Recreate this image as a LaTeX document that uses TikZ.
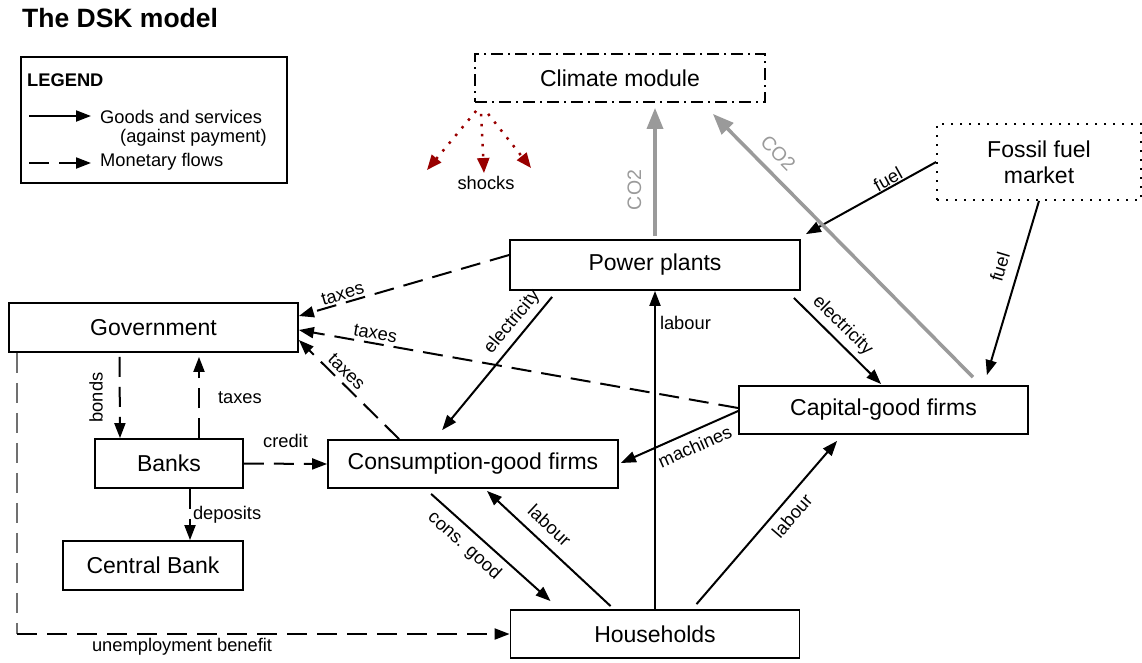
\documentclass[tikz,border=0pt]{standalone}
\usepackage{fontspec}
\setmainfont{Liberation Sans}
\usetikzlibrary{arrows.meta}
\definecolor{co2gray}{HTML}{9A9A9A}
\definecolor{ugray}{HTML}{707070}
\definecolor{shockred}{HTML}{990000}
\newcommand{\dskBox}{\fontsize{23}{26}\selectfont}
\newcommand{\dskLbl}{\fontsize{18.3}{21}\selectfont}
\newcommand{\dskLeg}{\fontsize{18.3}{21}\selectfont}
\newcommand{\dskTitle}{\fontsize{26.5}{30}\selectfont\bfseries}
\newcommand{\dskCO}{\fontsize{19.5}{22}\selectfont}
\tikzset{
  box/.style={draw=black, line width=1.8pt, inner sep=0pt, font=\dskBox, align=center},
  goods/.style={line width=2pt, -{Triangle[length=15pt,width=11pt]}},
  money/.style={goods, dash pattern=on 20pt off 10pt},
  co2/.style={draw=co2gray, line width=3.5pt, -{Triangle[length=21pt,width=16pt]}},
  shock/.style={draw=shockred, line width=2.5pt, dash pattern=on 2.5pt off 7.5pt, -{Triangle[length=15pt,width=12pt]}},
  lbl/.style={font=\dskLbl, inner sep=2pt},
  colbl/.style={font=\dskCO, inner sep=2pt, text=co2gray},
}
\begin{document}
\begin{tikzpicture}[x=1pt,y=-1pt]
\useasboundingbox (0,0) rectangle (1142,662);

% title and legend
\node[anchor=base west, inner sep=0pt, font=\dskTitle] (title) at (22,27) {The DSK model};
\node[draw, line width=1.5pt, minimum width=266pt, minimum height=126pt, inner sep=0pt] (legend) at (154,120) {};
\node[anchor=base west, inner sep=0pt, font=\dskLeg\bfseries] (legT) at (27,86) {LEGEND};
\coordinate (lgAs) at (29,116);
\coordinate (lgAe) at (91,116);
\draw[goods] (lgAs) -- (lgAe);
\node[anchor=base west, inner sep=0pt, font=\dskLeg] (lgA) at (100,123) {Goods and services};
\node[anchor=base west, inner sep=0pt, font=\dskLeg] (lgA2) at (120,142) {(against payment)};
\coordinate (lgBs) at (29,163);
\coordinate (lgBe) at (91,163);
\draw[money] (lgBs) -- (lgBe);
\node[anchor=base west, inner sep=0pt, font=\dskLeg] (lgB) at (100,166) {Monetary flows};

% boxes
\node[box, minimum width=290pt, minimum height=48pt, dash pattern=on 12pt off 5pt on 2pt off 5pt] (clim) at (620,78) {Climate module};
\node[box, minimum width=204pt, minimum height=76pt, dash pattern=on 2pt off 7pt] (fossil) at (1039,162) {Fossil fuel\\market};
\node[box, minimum width=290pt, minimum height=50pt] (pp) at (655,265) {Power plants};
\node[box, minimum width=289pt, minimum height=49pt] (gov) at (153.5,327.5) {Government};
\node[box, minimum width=148pt, minimum height=49pt] (banks) at (169,463.5) {Banks};
\node[box, minimum width=290pt, minimum height=48pt] (cons) at (473,464) {Consumption-good firms};
\node[box, minimum width=289pt, minimum height=48pt] (cap) at (883.5,410) {Capital-good firms};
\node[box, minimum width=180pt, minimum height=49pt] (cb) at (153,565.5) {Central Bank};
\node[box, minimum width=289pt, minimum height=48pt] (hh) at (655,634) {Households};

% monetary flows
\draw[money] ([yshift=10pt]pp.west) -- ([yshift=11.5pt]gov.east)
  node[lbl, pos=0.78, sloped, above] {taxes};
\draw[money] ([yshift=2pt]cap.west) -- ([yshift=-2.5pt]gov.east)
  node[lbl, pos=0.83, sloped, above=1pt] {taxes};
\draw[money] ([xshift=72pt]cons.north west) -- ([yshift=-12.5pt]gov.east)
  node[lbl, pos=0.6, sloped, above=2pt] {taxes};
\draw[money] ([xshift=-34pt, yshift=-4pt]gov.south) -- ([xshift=-49pt]banks.north)
  node[lbl, midway, xshift=-14pt, rotate=90, anchor=south] {bonds};
\draw[money] ([xshift=30pt]banks.north) -- ([xshift=45.5pt, yshift=-4pt]gov.south)
  node[lbl, midway, right=16pt] {taxes};
\draw[money] (banks.east) -- (cons.west)
  node[lbl, midway, above=13pt] {credit};
\draw[money] ([xshift=21pt]banks.south) -- ([xshift=37pt]cb.north)
  node[lbl, midway, right=0pt] {deposits};
\coordinate (ustart) at ([xshift=9pt]gov.south west);
\coordinate (ucorner) at (ustart |- hh.west);
\draw[money, draw=ugray, -] (ustart) -- (ucorner);
\draw[money] (ucorner) -- (hh.west)
  node[lbl, pos=0.335, below=1pt] {unemployment benefit};

% goods and services
\draw[goods] ([xshift=43pt, yshift=-6pt]pp.south west) -- ([xshift=115pt, yshift=9pt]cons.north west)
  node[lbl, pos=0.26, sloped, above=3pt] {electricity};
\draw[goods] ([xshift=-7pt, yshift=-7pt]pp.south east) -- ([xshift=143pt, yshift=1pt]cap.north west)
  node[lbl, pos=0.44, sloped, above=3pt] {electricity};
\draw[goods] ([yshift=-1pt]cap.west) -- ([xshift=2pt, yshift=1pt]cons.east)
  node[lbl, pos=0.42, sloped, below=5pt] {machines};
\draw[goods] (hh.north) -- (pp.south)
  node[lbl, pos=0.9, right=2pt] {labour};
\draw[goods] ([xshift=101pt, yshift=3pt]hh.north west) -- ([xshift=14pt, yshift=-2pt]cons.south)
  node[lbl, pos=0.59, sloped, above=8pt] {labour};
\draw[goods] ([xshift=104pt, yshift=-5pt]cons.south west) -- ([xshift=41pt, yshift=8pt]hh.north west)
  node[lbl, pos=0.37, sloped, below=5pt] {cons. good};
\draw[goods] ([xshift=41.5pt, yshift=5pt]hh.north) -- ([xshift=99pt, yshift=-6pt]cap.south west)
  node[lbl, pos=0.6, sloped, below=5pt] {labour};
\draw[goods] (fossil.west) -- ([xshift=5pt, yshift=5pt]pp.north east)
  node[lbl, pos=0.34, sloped, above=0pt, inner sep=0.5pt] {fuel};
\draw[goods] (fossil.south) -- ([xshift=-42pt, yshift=10pt]cap.north east)
  node[lbl, pos=0.41, sloped, above=9pt] {fuel};

% emissions
\draw[co2] ([yshift=3pt]pp.north) -- ([xshift=35pt, yshift=-5pt]clim.south)
  node[colbl, pos=0.36, sloped, above=10pt] {CO2};
\draw[co2] ([xshift=-56pt, yshift=8pt]cap.north east) -- ([xshift=-53pt, yshift=-11pt]clim.south east)
  node[colbl, pos=0.8, sloped, above=8pt] {CO2};

% shocks
\coordinate (shL) at (427,170);
\coordinate (shM) at (484,173);
\coordinate (shR) at (531,168);
\draw[shock] ([xshift=2pt, yshift=-8pt]clim.south west) -- (shL);
\draw[shock] ([xshift=7pt, yshift=-11pt]clim.south west) -- (shM)
  node[lbl, pos=1, below=0pt, xshift=2pt] {shocks};
\draw[shock] ([xshift=14pt, yshift=-11pt]clim.south west) -- (shR);
\end{tikzpicture}
\end{document}
